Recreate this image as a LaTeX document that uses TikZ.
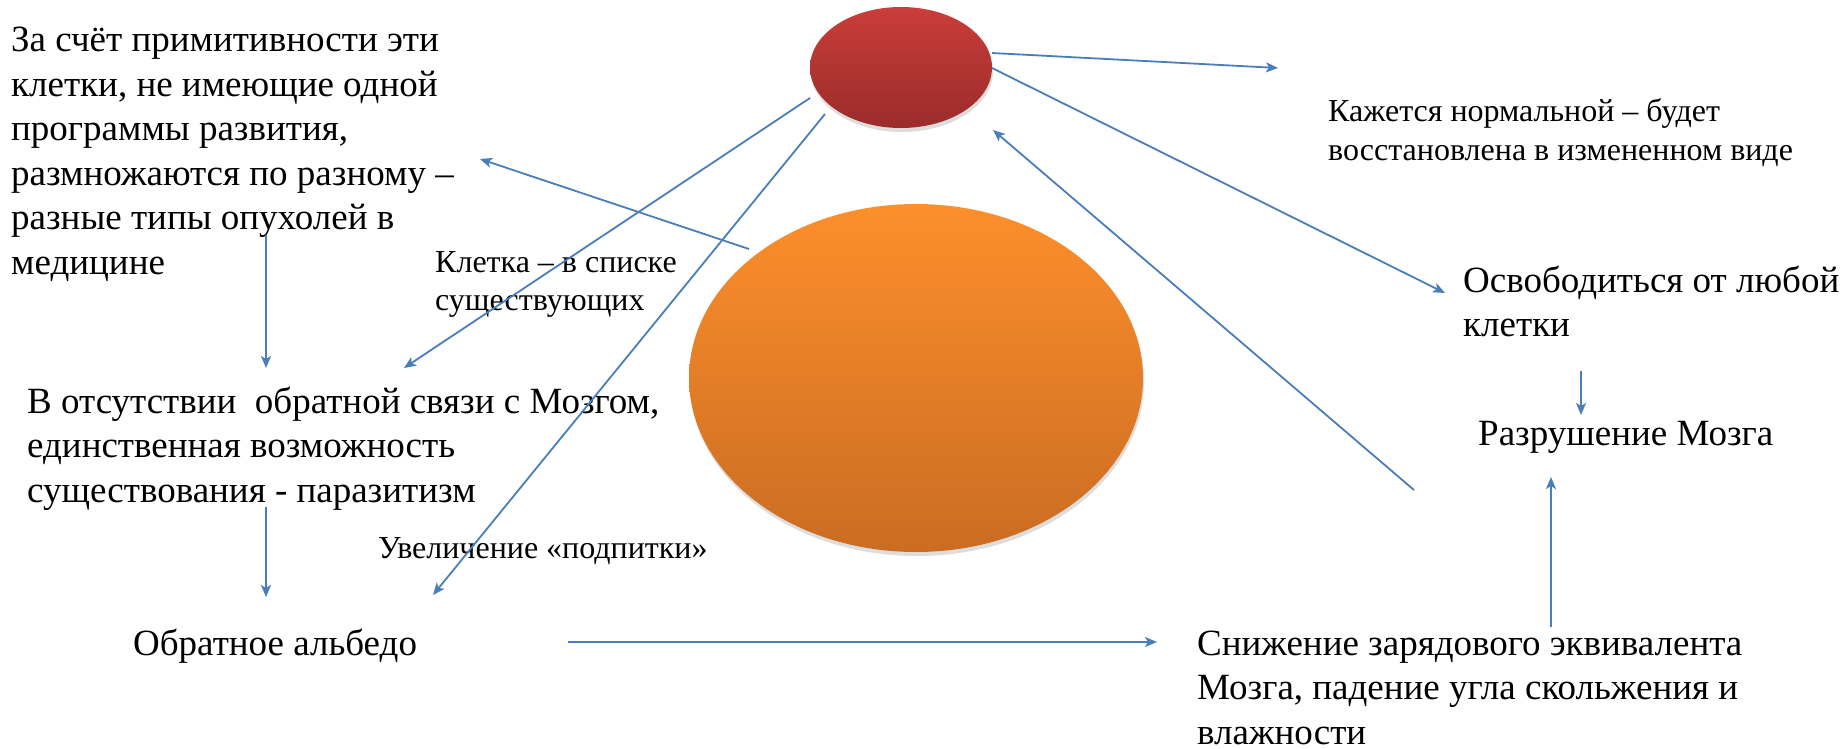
\documentclass[tikz,border=0pt]{standalone}
\usepackage{fontspec}
\setmainfont{Liberation Serif}
\usetikzlibrary{arrows.meta,shadows,shapes.geometric}
\definecolor{arrowblue}{HTML}{4A7EBB}
\definecolor{redtop}{HTML}{CA3D3A}
\definecolor{redbot}{HTML}{9A2C2A}
\definecolor{orgtop}{HTML}{FD8F2C}
\definecolor{orgbot}{HTML}{CA6C22}
\newcommand\mlines[1]{\vtop{\lineskip=0pt\lineskiplimit=-200pt #1}}
\tikzset{
  bigtext/.style={font=\fontsize{37pt}{44.5pt}\selectfont, inner sep=0pt, anchor=base west},
  smalltext/.style={font=\fontsize{32pt}{38.3pt}\selectfont, inner sep=0pt, anchor=base west},
  conn/.style={draw=arrowblue, line width=1.8pt, -{Stealth[length=12pt,width=10pt,inset=3pt]}},
  blob/.style={ellipse, inner sep=0pt, draw=none,
    drop shadow={shadow xshift=1pt, shadow yshift=-4pt, opacity=0.22, fill=black!60}},
}
\begin{document}
\begin{tikzpicture}[x=1pt,y=-1pt]
\useasboundingbox (0,0) rectangle (1847,749);
\fill[white] (0,0) rectangle (1847,749);

% ellipses
\node[blob, minimum width=182pt, minimum height=121pt, top color=redtop, bottom color=redbot] (red) at (901,67.5) {};
\node[blob, minimum width=454pt, minimum height=348pt, top color=orgtop, bottom color=orgbot] (orange) at (916,378) {};

% texts
\node[bigtext] (t1) at (11,52) {\mlines{%
  \hbox{За счёт примитивности эти}
  \hbox{клетки, не имеющие одной}
  \hbox{программы развития,}
  \hbox{размножаются по разному –}
  \hbox{разные типы опухолей в}
  \hbox{медицине}}};
\node[smalltext] (t2) at (435,272) {\mlines{%
  \hbox{Клетка – в списке}
  \hbox{существующих}}};
\node[bigtext] (t3) at (27,413) {\mlines{%
  \hbox{В отсутствии~ обратной связи с Мозгом,}
  \hbox{единственная возможность}
  \hbox{существования - паразитизм}}};
\node[smalltext] (t4) at (378,558) {Увеличение «подпитки»};
\node[bigtext] (t5) at (133,655) {Обратное альбедо};
\node[smalltext] (t6) at (1328,122) {\mlines{%
  \hbox{Кажется нормальной – будет}
  \hbox{восстановлена в измененном виде}}};
\node[bigtext] (t7) at (1463,292) {\mlines{%
  \hbox{Освободиться от любой}
  \hbox{клетки}}};
\node[bigtext] (t8) at (1478,445) {Разрушение Мозга};
\node[bigtext] (t9) at (1197,655) {\mlines{%
  \hbox{Снижение зарядового эквивалента}
  \hbox{Мозга, падение угла скольжения и}
  \hbox{влажности}}};

% connector end points
\coordinate (r1) at (992,53);
\coordinate (r2) at (992,68);
\coordinate (r3) at (993,130);
\coordinate (r4) at (810,98);
\coordinate (r5) at (825,114);
\coordinate (o1) at (749,249);
\coordinate (k1) at (1278,68);
\coordinate (k2) at (1445,293);
\coordinate (k3) at (1414,490);
\coordinate (k4) at (404,368);
\coordinate (k5) at (433,595);
\coordinate (k6) at (480,159);
\coordinate (v1a) at (266,235);
\coordinate (v1b) at (266,368);
\coordinate (v2a) at (266,507);
\coordinate (v2b) at (266,597);
\coordinate (ha) at (568,642);
\coordinate (hb) at (1157,642);
\coordinate (v3a) at (1581,371);
\coordinate (v3b) at (1581,415);
\coordinate (v4a) at (1551,627);
\coordinate (v4b) at (1551,477);

% connectors
\draw[conn] (r1) -- (k1);
\draw[conn] (r2) -- (k2);
\draw[conn] (k3) -- (r3);
\draw[conn] (r4) -- (k4);
\draw[conn] (r5) -- (k5);
\draw[conn] (o1) -- (k6);
\draw[conn] (v1a) -- (v1b);
\draw[conn] (v2a) -- (v2b);
\draw[conn] (ha) -- (hb);
\draw[conn] (v3a) -- (v3b);
\draw[conn] (v4a) -- (v4b);
\end{tikzpicture}
\end{document}
